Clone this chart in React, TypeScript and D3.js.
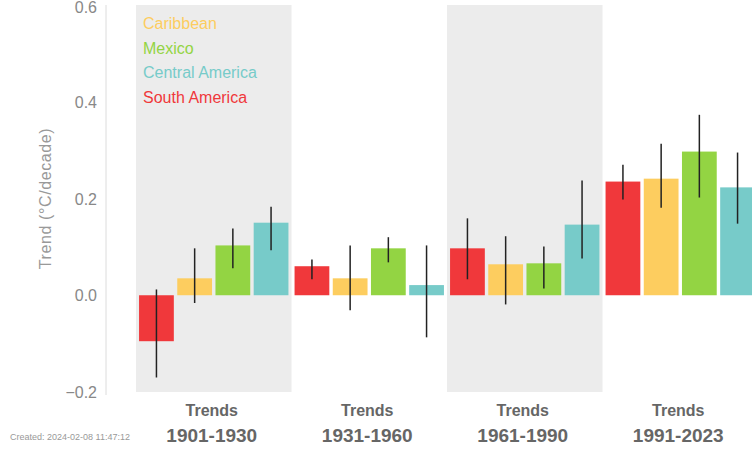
import React from "react";
import * as d3 from "d3";

const periods = ["1901-1930", "1931-1960", "1961-1990", "1991-2023"];
const series = ["South America", "Caribbean", "Mexico", "Central America"];
const legendOrder = ["Caribbean", "Mexico", "Central America", "South America"];
const colors: Record<string, string> = {
  "South America": "#f0383b",
  Caribbean: "#fdcd5f",
  Mexico: "#93d443",
  "Central America": "#77cbc9",
};
// values per series, per period
const southAmerica = [-0.095, 0.06, 0.097, 0.235];
const caribbean = [0.035, 0.035, 0.064, 0.241];
const mexico = [0.103, 0.097, 0.066, 0.297];
const centralAmerica = [0.15, 0.021, 0.146, 0.223];
const southAmericaLo = [-0.17, 0.033, 0.033, 0.198];
const southAmericaHi = [0.012, 0.074, 0.159, 0.27];
const caribbeanLo = [-0.016, -0.031, -0.019, 0.181];
const caribbeanHi = [0.097, 0.103, 0.122, 0.313];
const mexicoLo = [0.056, 0.068, 0.014, 0.202];
const mexicoHi = [0.138, 0.12, 0.101, 0.373];
const centralAmericaLo = [0.093, -0.087, 0.076, 0.148];
const centralAmericaHi = [0.183, 0.103, 0.237, 0.295];
const yTicks = [-0.2, 0.0, 0.2, 0.4, 0.6];

const valueMap: Record<string, number[]> = {
  "South America": southAmerica,
  Caribbean: caribbean,
  Mexico: mexico,
  "Central America": centralAmerica,
};
const loMap: Record<string, number[]> = {
  "South America": southAmericaLo,
  Caribbean: caribbeanLo,
  Mexico: mexicoLo,
  "Central America": centralAmericaLo,
};
const hiMap: Record<string, number[]> = {
  "South America": southAmericaHi,
  Caribbean: caribbeanHi,
  Mexico: mexicoHi,
  "Central America": centralAmericaHi,
};

export default function App() {
  const W = 752;
  const H = 450;
  const y = d3.scaleLinear().domain([-0.2, 0.6]).range([392, 5]);
  const x0 = d3.scaleBand().domain(periods).range([136, 758]).padding(0);
  const x1 = d3
    .scaleBand()
    .domain(series)
    .range([0, x0.bandwidth()])
    .paddingInner(0.09)
    .paddingOuter(0.08);
  const font = "'Liberation Sans', Arial, sans-serif";
  return (
    <svg
      width={W}
      height={H}
      style={{ position: "absolute", left: 0, top: 0, background: "#fff" }}
    >
      {periods.map((p, i) =>
        i % 2 === 0 ? (
          <rect
            key={"bg" + p}
            x={x0(p)}
            y={y(0.6)}
            width={x0.bandwidth()}
            height={y(-0.2) - y(0.6)}
            fill="#ececec"
          />
        ) : null
      )}
      <line x1={106} x2={106} y1={y(0.6)} y2={y(-0.2) + 3} stroke="#dcdcdc" strokeWidth={1} />
      {yTicks.map((t) => (
        <text
          key={t}
          x={97}
          y={Math.max(y(t) + 6, 12.5)}
          textAnchor="end"
          fontFamily={font}
          fontSize={16}
          fill="#888"
        >
          {t < 0 ? "\u2212" + Math.abs(t).toFixed(1) : t.toFixed(1)}
        </text>
      ))}
      <text
        transform={`translate(51,${y(0.2)}) rotate(-90)`}
        textAnchor="middle"
        fontFamily={font}
        fontSize={16}
        letterSpacing={0.6}
        fill="#999"
      >
        Trend (°C/decade)
      </text>
      {periods.map((p, i) =>
        series.map((s) => {
          const v = valueMap[s][i];
          const bx = (x0(p) as number) + (x1(s) as number);
          const cx = bx + x1.bandwidth() / 2;
          return (
            <g key={p + s}>
              <rect
                x={bx}
                y={Math.min(y(v), y(0))}
                width={x1.bandwidth()}
                height={Math.abs(y(v) - y(0))}
                fill={colors[s]}
              />
              <line
                x1={cx}
                x2={cx}
                y1={y(hiMap[s][i])}
                y2={y(loMap[s][i])}
                stroke="#222"
                strokeWidth={1.5}
              />
            </g>
          );
        })
      )}
      {legendOrder.map((s, i) => (
        <text
          key={"lg" + s}
          x={143}
          y={29 + i * 24.5}
          fontFamily={font}
          fontSize={16}
          fill={colors[s]}
        >
          {s}
        </text>
      ))}
      {periods.map((p) => {
        const cx = (x0(p) as number) + x0.bandwidth() / 2 - 2;
        return (
          <g key={"lab" + p}>
            <text
              x={cx}
              y={416}
              textAnchor="middle"
              fontFamily={font}
              fontSize={16}
              fontWeight="bold"
              fill="#666"
            >
              Trends
            </text>
            <text
              x={cx}
              y={442}
              textAnchor="middle"
              fontFamily={font}
              fontSize={19}
              fontWeight="bold"
              fill="#666"
            >
              {p}
            </text>
          </g>
        );
      })}
      <text x={10} y={440} fontFamily={font} fontSize={9} fill="#999">
        Created: 2024-02-08 11:47:12
      </text>
    </svg>
  );
}
